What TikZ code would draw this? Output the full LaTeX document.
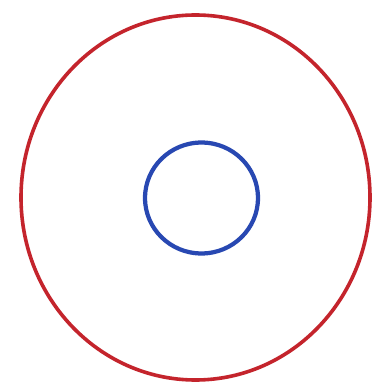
\documentclass[tikz,border=0pt]{standalone}
\usepackage{xcolor}
\usepackage{tikz}

\definecolor{ringred}{RGB}{196,36,44}
\definecolor{ringblue}{RGB}{40,72,178}

\begin{document}
\begin{tikzpicture}[
  x=1pt, y=1pt,
  outerring/.style={fill=ringred, even odd rule},
  innerring/.style={fill=ringblue, even odd rule},
]
\fill[white] (0,0) rectangle (377,386);
\useasboundingbox (0,0) rectangle (377,386);
% centres of the two rings
\coordinate (outerc) at (195.5,188.5);
\coordinate (innerc) at (201.5,188);
% outer and inner ring, each as a band between two ellipses
\path[outerring] (outerc) ellipse [x radius=176.3, y radius=184.3]
                 (outerc) ellipse [x radius=172.7, y radius=180.7];
\path[innerring] (innerc) ellipse [x radius=58.6, y radius=57.6]
                 (innerc) ellipse [x radius=54.4, y radius=53.4];
\end{tikzpicture}
\end{document}
